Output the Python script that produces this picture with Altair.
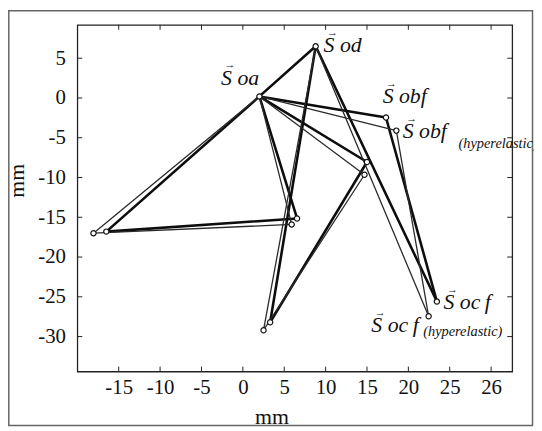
import altair as alt
import pandas as pd

# ---------------- data ----------------
point_names = ["oa", "od", "L1", "L2", "M1", "M2", "B1", "B2",
               "R1", "R2", "obf", "obf_h", "ocf", "ocf_h"]
point_x = [2.0, 8.8, -16.5, -18.05, 6.55, 5.9, 3.3, 2.5,
           15.0, 14.7, 17.3, 18.55, 23.45, 22.45]
point_y = [0.2, 6.5, -16.8, -17.0, -15.15, -15.9, -28.2, -29.2,
           -8.05, -9.65, -2.45, -4.1, -25.6, -27.45]

edge_from = ["od", "oa", "L1", "oa", "od", "B1", "oa", "oa", "obf", "od",
             "oa", "L2", "oa", "od", "B2", "oa", "oa", "obf_h", "od"]
edge_to = ["oa", "L1", "M1", "M1", "B1", "R1", "R1", "obf", "ocf", "ocf",
           "L2", "M2", "M2", "B2", "R2", "R2", "obf_h", "ocf_h", "ocf_h"]
edge_group = ["normal"] * 10 + ["hyperelastic"] * 9

x_tick_values = [-15, -10, -5, 0, 5, 10, 15, 20, 25, 30]
x_tick_labels = ["-15", "-10", "-5", "0", "5", "10", "15", "20", "25", "26"]
y_tick_values = [5, 0, -5, -10, -15, -20, -25, -30]
y_tick_labels = ["5", "0", "-5", "-10", "-15", "-20", "-25", "-30"]

label_anchor = ["oa", "od", "obf", "obf_h", "ocf", "ocf_h"]
label_text = ["S oa", "S od", "S obf", "S obf", "S oc\u2009f", "S oc\u2009f"]
label_sub = ["", "", "", "(hyperelastic)", "", "(hyperelastic)"]

x_domain = [-20, 32.55]
y_domain = [-34.4, 9.2]

# ---------------- tables ----------------
pos = {n: (px, py) for n, px, py in zip(point_names, point_x, point_y)}
points = pd.DataFrame({"name": point_names, "x": point_x, "y": point_y})
edges = pd.DataFrame({
    "x": [pos[a][0] for a in edge_from],
    "y": [pos[a][1] for a in edge_from],
    "x2": [pos[b][0] for b in edge_to],
    "y2": [pos[b][1] for b in edge_to],
    "group": edge_group,
})
labels = pd.DataFrame({
    "name": label_anchor,
    "x": [pos[a][0] for a in label_anchor],
    "y": [pos[a][1] for a in label_anchor],
    "text": label_text,
    "sub": label_sub,
})
xt = pd.DataFrame({"x": x_tick_values})
yt = pd.DataFrame({"y": y_tick_values})


def label_expr(values, texts):
    expr = "datum.label"
    for v, t in zip(reversed(values), reversed(texts)):
        expr = f"datum.value == {v} ? '{t}' : ({expr})"
    return expr


W, H = 439, 350
SERIF = "Liberation Serif, Times New Roman, serif"

X = alt.X("x:Q", scale=alt.Scale(domain=x_domain, nice=False, zero=False),
          axis=alt.Axis(values=x_tick_values, labelExpr=label_expr(x_tick_values, x_tick_labels),
                        title="mm", titleX=196, titleY=52, titleBaseline="alphabetic",
                        titleAlign="center", labelBaseline="alphabetic", labelPadding=22))
Y = alt.Y("y:Q", scale=alt.Scale(domain=y_domain, nice=False, zero=False),
          axis=alt.Axis(values=y_tick_values, labelExpr=label_expr(y_tick_values, y_tick_labels),
                        title="mm", titleX=-61, titleY=157, titleAngle=270,
                        titleAlign="center", titleBaseline="middle",
                        labelBaseline="middle", labelPadding=12))

lines = alt.Chart(edges).mark_rule(strokeCap="round").encode(
    x=X, y=Y, x2="x2:Q", y2="y2:Q",
    strokeWidth=alt.StrokeWidth("group:N", scale=alt.Scale(domain=["normal", "hyperelastic"], range=[2.6, 1.3]), legend=None),
    color=alt.Color("group:N", scale=alt.Scale(domain=["normal", "hyperelastic"], range=["#0d0d0d", "#2a2a2a"]), legend=None),
)

dots = alt.Chart(points).mark_point(shape="circle", filled=False, fill="white", fillOpacity=1,
                                    stroke="#111111", strokeWidth=1.2, size=28, opacity=1).encode(x=X, y=Y)

tick_len = 5
xticks_b = alt.Chart(xt).mark_rule(color="#222", strokeWidth=1).encode(x=X, y=alt.value(H), y2=alt.value(H - tick_len))
xticks_t = alt.Chart(xt).mark_rule(color="#222", strokeWidth=1).encode(x=X, y=alt.value(0), y2=alt.value(tick_len))
yticks_l = alt.Chart(yt).mark_rule(color="#222", strokeWidth=1).encode(y=Y, x=alt.value(0), x2=alt.value(tick_len))
yticks_r = alt.Chart(yt).mark_rule(color="#222", strokeWidth=1).encode(y=Y, x=alt.value(W), x2=alt.value(W - tick_len))

border = alt.Chart(pd.DataFrame({"k": [0]})).mark_rect(fill=None, stroke="#666", strokeWidth=1.5).encode(
    x=alt.value(-69.2), x2=alt.value(459.5), y=alt.value(-14.2), y2=alt.value(404.5))

# label offsets: (dx, dy) of the main text start / baseline, and of the subscript
main_off = [(-38.7, -12), (8, 5.7), (-3.4, -14.3), (6.4, 7.7), (6.6, 8), (-57.8, 16)]
sub_off = [None, None, None, (62.7, 17.5), None, (-5.5, 20)]

text_layers = []
base = alt.Chart(labels)
for name, (dx, dy), so in zip(label_anchor, main_off, sub_off):
    b = base.transform_filter(alt.datum.name == name)
    text_layers.append(b.mark_text(align="left", baseline="alphabetic", dx=dx, dy=dy, font=SERIF,
                                   fontStyle="italic", fontSize=22, color="#111").encode(x=X, y=Y, text="text:N"))
    text_layers.append(b.mark_text(align="center", baseline="middle", dx=dx + 9, dy=dy - 19.5, font=SERIF,
                                   fontSize=11, fontWeight="bold", color="#111").encode(x=X, y=Y, text=alt.value("\u2192")))
    if so is not None:
        text_layers.append(b.mark_text(align="left", baseline="alphabetic", dx=so[0], dy=so[1], font=SERIF,
                                       fontStyle="italic", fontSize=14.5, color="#111").encode(x=X, y=Y, text="sub:N"))

chart = alt.layer(border, xticks_b, xticks_t, yticks_l, yticks_r, lines, dots, *text_layers).properties(
    width=W, height=H,
    autosize=alt.AutoSizeParams(type="none"),
    padding={"left": 70, "top": 15, "right": 22, "bottom": 56},
    background="white",
).configure_view(stroke="#222", strokeWidth=1.3).configure_axis(
    domain=False, ticks=False, grid=False,
    labelFont=SERIF, labelFontSize=21, labelColor="#111",
    titleFont=SERIF, titleFontSize=22, titleFontWeight="normal", titleColor="#111",
)

chart.save("out.html", embed_options={"renderer": "svg", "actions": False})
